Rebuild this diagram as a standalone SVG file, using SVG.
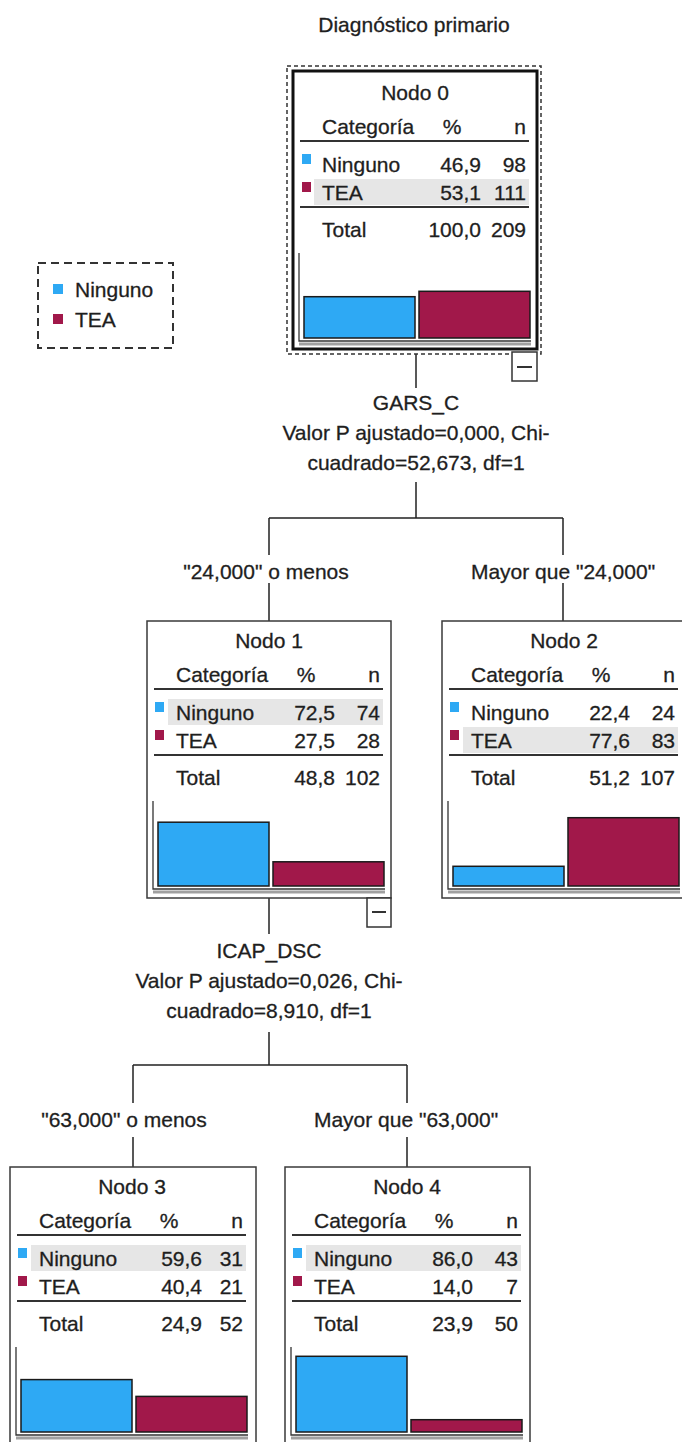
<svg xmlns="http://www.w3.org/2000/svg" width="682" height="1442" viewBox="0 0 682 1442">
  <style>
    .t { font-family: "Liberation Sans", Arial, sans-serif; font-size: 21px; fill: #1e1e1e; stroke: #1e1e1e; stroke-width: 0.3; }
    .m { text-anchor: middle; }
    .e { text-anchor: end; }
    .box { fill: #ffffff; stroke: #3a3a3a; stroke-width: 1.5; }
    .hl { fill: #e6e6e6; }
    .rule { stroke: #333333; stroke-width: 2; }
    .blue { fill: #2ea9f4; }
    .red { fill: #a1184a; }
    .bar { stroke: #1a1a1a; stroke-width: 1.5; }
    .axis { stroke: #333333; stroke-width: 1.3; fill: none; }
    .axis2 { stroke: #a0a0a0; stroke-width: 3; fill: none; }
    .conn { stroke: #222222; stroke-width: 1.5; fill: none; }
    .toggle { fill: #ffffff; stroke: #333333; stroke-width: 1.5; }
  </style>

  <!-- dependent variable title -->
  <text class="t m" x="414" y="32">Diagnóstico primario</text>

  <!-- legend -->
  <g id="legend">
    <rect x="38" y="263" width="135" height="85" fill="none" stroke="#333" stroke-width="2" stroke-dasharray="8 5"/>
    <rect class="blue" x="53" y="284" width="10" height="10"/>
    <text class="t" x="75" y="297">Ninguno</text>
    <rect class="red" x="53" y="314" width="10" height="10"/>
    <text class="t" x="75" y="327">TEA</text>
  </g>

  <!-- connectors and split labels -->
  <g id="connectors">
    <path class="conn" d="M416,354 V388"/>
    <text class="t m" x="416" y="410">GARS_C</text>
    <text class="t m" x="416" y="440">Valor P ajustado=0,000, Chi-</text>
    <text class="t m" x="416" y="470">cuadrado=52,673, df=1</text>
    <path class="conn" d="M416,482 V518 M269,518 H563 M269,518 V555 M269,583 V621 M563,518 V555 M563,583 V621"/>
    <text class="t m" x="266" y="579">"24,000" o menos</text>
    <text class="t m" x="563" y="579">Mayor que "24,000"</text>

    <path class="conn" d="M269,898 V934"/>
    <text class="t m" x="269" y="958">ICAP_DSC</text>
    <text class="t m" x="269" y="988">Valor P ajustado=0,026, Chi-</text>
    <text class="t m" x="269" y="1018">cuadrado=8,910, df=1</text>
    <path class="conn" d="M269,1032 V1065 M133,1065 H407 M133,1065 V1103 M133,1137 V1167 M407,1065 V1103 M407,1137 V1167"/>
    <text class="t m" x="124" y="1127">"63,000" o menos</text>
    <text class="t m" x="406" y="1127">Mayor que "63,000"</text>
  </g>

  <!-- Nodo 0 (selected, with collapse toggle) -->
  <g id="node0">
    <rect x="287" y="66" width="254" height="288" fill="none" stroke="#333" stroke-width="1.5" stroke-dasharray="4 3"/>
    <rect x="293" y="71" width="244" height="278" fill="#fff" stroke="#111" stroke-width="3"/>
    <g transform="translate(293,73)">
      <text class="t m" x="122" y="27">Nodo 0</text>
      <text class="t" x="29" y="61">Categoría</text>
      <text class="t m" x="159" y="61">%</text>
      <text class="t e" x="233" y="61">n</text>
      <line class="rule" x1="7" y1="68" x2="236" y2="68"/>
      <rect class="hl" x="21" y="106" width="215" height="26"/>
      <rect class="blue" x="9" y="81" width="9" height="10"/>
      <text class="t" x="29" y="99">Ninguno</text>
      <text class="t e" x="188" y="99">46,9</text>
      <text class="t e" x="233" y="99">98</text>
      <rect class="red" x="9" y="109" width="9" height="10"/>
      <text class="t" x="29" y="127">TEA</text>
      <text class="t e" x="188" y="127">53,1</text>
      <text class="t e" x="233" y="127">111</text>
      <line class="rule" x1="7" y1="134" x2="236" y2="134"/>
      <text class="t" x="29" y="164">Total</text>
      <text class="t e" x="188" y="164">100,0</text>
      <text class="t e" x="233" y="164">209</text>
      <path class="axis2" d="M6,271 H238"/>
      <path class="axis" d="M6,180 V268 H238"/>
      <rect class="blue bar" x="11" y="223.7" width="111" height="41.3"/>
      <rect class="red bar" x="126" y="218.3" width="111" height="46.7"/>
    </g>
    <rect class="toggle" x="512" y="352" width="25" height="29"/>
    <line x1="517" y1="367" x2="532" y2="367" stroke="#333" stroke-width="2"/>
  </g>

  <!-- Nodo 1 -->
  <g id="node1" transform="translate(147,621)">
    <rect class="box" x="0" y="0" width="244" height="277"/>
    <text class="t m" x="122" y="27">Nodo 1</text>
    <text class="t" x="29" y="61">Categoría</text>
    <text class="t m" x="159" y="61">%</text>
    <text class="t e" x="233" y="61">n</text>
    <line class="rule" x1="7" y1="68" x2="236" y2="68"/>
    <rect class="hl" x="21" y="78" width="215" height="26"/>
    <rect class="blue" x="8" y="81" width="9" height="10"/>
    <text class="t" x="29" y="99">Ninguno</text>
    <text class="t e" x="188" y="99">72,5</text>
    <text class="t e" x="233" y="99">74</text>
    <rect class="red" x="8" y="109" width="9" height="10"/>
    <text class="t" x="29" y="127">TEA</text>
    <text class="t e" x="188" y="127">27,5</text>
    <text class="t e" x="233" y="127">28</text>
    <line class="rule" x1="7" y1="134" x2="236" y2="134"/>
    <text class="t" x="29" y="164">Total</text>
    <text class="t e" x="188" y="164">48,8</text>
    <text class="t e" x="233" y="164">102</text>
    <path class="axis2" d="M6,271 H238"/>
    <path class="axis" d="M6,180 V268 H238"/>
    <rect class="blue bar" x="11" y="201.2" width="111" height="63.8"/>
    <rect class="red bar" x="126" y="240.8" width="111" height="24.2"/>
    <rect class="toggle" x="220" y="277" width="24" height="29"/>
    <line x1="225" y1="291" x2="239" y2="291" stroke="#333" stroke-width="2"/>
  </g>

  <!-- Nodo 2 -->
  <g id="node2" transform="translate(442,621)">
    <rect class="box" x="0" y="0" width="244" height="277"/>
    <text class="t m" x="122" y="27">Nodo 2</text>
    <text class="t" x="29" y="61">Categoría</text>
    <text class="t m" x="159" y="61">%</text>
    <text class="t e" x="233" y="61">n</text>
    <line class="rule" x1="7" y1="68" x2="236" y2="68"/>
    <rect class="hl" x="21" y="106" width="215" height="26"/>
    <rect class="blue" x="8" y="81" width="9" height="10"/>
    <text class="t" x="29" y="99">Ninguno</text>
    <text class="t e" x="188" y="99">22,4</text>
    <text class="t e" x="233" y="99">24</text>
    <rect class="red" x="8" y="109" width="9" height="10"/>
    <text class="t" x="29" y="127">TEA</text>
    <text class="t e" x="188" y="127">77,6</text>
    <text class="t e" x="233" y="127">83</text>
    <line class="rule" x1="7" y1="134" x2="236" y2="134"/>
    <text class="t" x="29" y="164">Total</text>
    <text class="t e" x="188" y="164">51,2</text>
    <text class="t e" x="233" y="164">107</text>
    <path class="axis2" d="M6,271 H238"/>
    <path class="axis" d="M6,180 V268 H238"/>
    <rect class="blue bar" x="11" y="245.3" width="111" height="19.7"/>
    <rect class="red bar" x="126" y="196.7" width="111" height="68.3"/>
  </g>

  <!-- Nodo 3 -->
  <g id="node3" transform="translate(10,1167)">
    <rect class="box" x="0" y="0" width="246" height="290"/>
    <text class="t m" x="122" y="27">Nodo 3</text>
    <text class="t" x="29" y="61">Categoría</text>
    <text class="t m" x="159" y="61">%</text>
    <text class="t e" x="233" y="61">n</text>
    <line class="rule" x1="7" y1="68" x2="236" y2="68"/>
    <rect class="hl" x="21" y="78" width="215" height="26"/>
    <rect class="blue" x="8" y="81" width="9" height="10"/>
    <text class="t" x="29" y="99">Ninguno</text>
    <text class="t e" x="192" y="99">59,6</text>
    <text class="t e" x="233" y="99">31</text>
    <rect class="red" x="8" y="109" width="9" height="10"/>
    <text class="t" x="29" y="127">TEA</text>
    <text class="t e" x="192" y="127">40,4</text>
    <text class="t e" x="233" y="127">21</text>
    <line class="rule" x1="7" y1="134" x2="236" y2="134"/>
    <text class="t" x="29" y="164">Total</text>
    <text class="t e" x="192" y="164">24,9</text>
    <text class="t e" x="233" y="164">52</text>
    <path class="axis2" d="M6,271 H238"/>
    <path class="axis" d="M6,180 V268 H238"/>
    <rect class="blue bar" x="11" y="212.6" width="111" height="52.4"/>
    <rect class="red bar" x="126" y="229.4" width="111" height="35.6"/>
  </g>

  <!-- Nodo 4 -->
  <g id="node4" transform="translate(285,1167)">
    <rect class="box" x="0" y="0" width="245" height="290"/>
    <text class="t m" x="122" y="27">Nodo 4</text>
    <text class="t" x="29" y="61">Categoría</text>
    <text class="t m" x="159" y="61">%</text>
    <text class="t e" x="233" y="61">n</text>
    <line class="rule" x1="7" y1="68" x2="236" y2="68"/>
    <rect class="hl" x="21" y="78" width="215" height="26"/>
    <rect class="blue" x="8" y="81" width="9" height="10"/>
    <text class="t" x="29" y="99">Ninguno</text>
    <text class="t e" x="188" y="99">86,0</text>
    <text class="t e" x="233" y="99">43</text>
    <rect class="red" x="8" y="109" width="9" height="10"/>
    <text class="t" x="29" y="127">TEA</text>
    <text class="t e" x="188" y="127">14,0</text>
    <text class="t e" x="233" y="127">7</text>
    <line class="rule" x1="7" y1="134" x2="236" y2="134"/>
    <text class="t" x="29" y="164">Total</text>
    <text class="t e" x="188" y="164">23,9</text>
    <text class="t e" x="233" y="164">50</text>
    <path class="axis2" d="M6,271 H238"/>
    <path class="axis" d="M6,180 V268 H238"/>
    <rect class="blue bar" x="11" y="189.3" width="111" height="75.7"/>
    <rect class="red bar" x="126" y="252.7" width="111" height="12.3"/>
  </g>
</svg>
